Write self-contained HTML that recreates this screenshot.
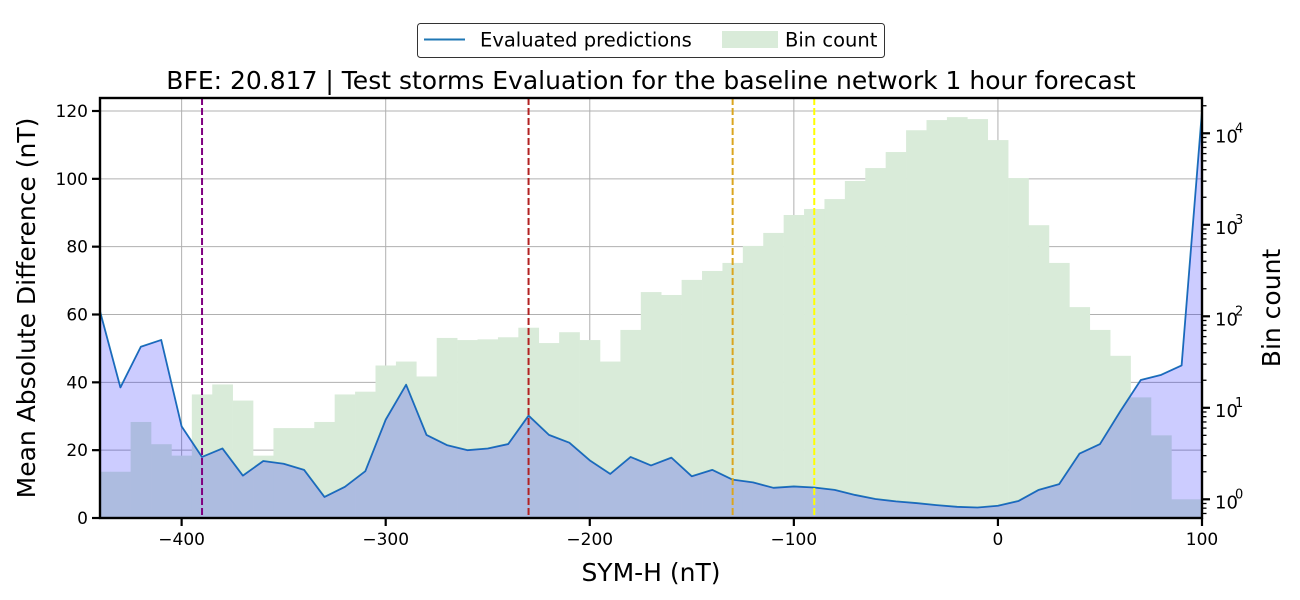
<!DOCTYPE html>
<html><head><meta charset="utf-8"><style>
html,body{margin:0;padding:0;background:#fff;}
svg{display:block;font-family:"DejaVu Sans","Liberation Sans",sans-serif;}
</style></head><body>
<svg id="chart" width="1300" height="600" viewBox="0 0 1300 600" xmlns="http://www.w3.org/2000/svg">
<rect x="0" y="0" width="1300" height="600" fill="#fff"/>
<g id="grid"></g>
<g id="hist"></g>
<g id="series"></g>
<g id="vlines"></g>
<g id="axes"></g>
<text x="651" y="89" font-size="25" text-anchor="middle" fill="#000">BFE: 20.817 | Test storms Evaluation for the baseline network 1 hour forecast</text>
<text x="651" y="581" font-size="25" text-anchor="middle" fill="#000">SYM-H (nT)</text>
<text x="0" y="0" font-size="25" text-anchor="middle" fill="#000" transform="translate(35,308) rotate(-90)">Mean Absolute Difference (nT)</text>
<text x="0" y="0" font-size="25" text-anchor="middle" fill="#000" transform="translate(1280,308) rotate(-90)">Bin count</text>
<g>
<rect x="417.5" y="23.5" width="467" height="34" rx="3" fill="#fff" stroke="#333" stroke-width="1"/>
<g>
<line x1="424" y1="39.5" x2="465" y2="39.5" stroke="#1f77b4" stroke-width="2"/>
<text x="480" y="46.5" font-size="19.5" fill="#000">Evaluated predictions</text>
</g>
<g>
<rect x="722" y="31" width="56" height="17" fill="#d9ebd9"/>
<text x="785" y="46.5" font-size="19.5" fill="#000">Bin count</text>
</g>
</g>
</svg>
<script>
const xVals = [-440,-430,-420,-410,-400,-390,-380,-370,-360,-350,-340,-330,-320,-310,-300,-290,-280,-270,-260,-250,-240,-230,-220,-210,-200,-190,-180,-170,-160,-150,-140,-130,-120,-110,-100,-90,-80,-70,-60,-50,-40,-30,-20,-10,0,10,20,30,40,50,60,70,80,90,100];
const maeVals = [61,38.5,50.5,52.5,27,18,20.5,12.5,16.8,16,14.2,6.2,9.2,13.8,29,39.3,24.5,21.5,20,20.5,21.8,30.2,24.5,22.2,17,13,18,15.5,17.8,12.3,14.2,11.3,10.5,8.9,9.3,9,8.3,6.8,5.6,4.9,4.4,3.8,3.3,3.1,3.6,5,8.3,10,19,21.8,31.5,40.7,42.2,45,120];
const binCenters = [-440,-430,-420,-410,-400,-390,-380,-370,-360,-350,-340,-330,-320,-310,-300,-290,-280,-270,-260,-250,-240,-230,-220,-210,-200,-190,-180,-170,-160,-150,-140,-130,-120,-110,-100,-90,-80,-70,-60,-50,-40,-30,-20,-10,0,10,20,30,40,50,60,70,80,90,100];
const binCounts = [2,2,7,4,3,14,18,12,3,6,6,7,14,15,29,32,22,58,55,56,59,75,51,67,55,32,71,184,171,250,313,383,588,815,1280,1490,1910,3010,4170,6240,10800,13950,15030,14300,8430,3240,990,383,126,71,37,13,5,1,1];
const xTicks = [-400,-300,-200,-100,0,100];
const yTicks = [0,20,40,60,80,100,120];
const logTicks = [0,1,2,3,4];
const thresholds = [-390,-230,-130,-90];
const thresholdColors = ['#800080','#b22222','#daa520','#ffff00'];

const L=100,R=1202,T=98,B=518;
const xMin=-440,xMax=100;
const X=v=>L+(v-xMin)/(xMax-xMin)*(R-L);
const Y=v=>518-v*(518-111)/120;
const YL=c=>499.3-91.5*Math.log10(c);
const NS='http://www.w3.org/2000/svg';
function mk(tag,attrs,parent){const e=document.createElementNS(NS,tag);for(const k in attrs)e.setAttribute(k,attrs[k]);parent.appendChild(e);return e;}
const clampX=v=>Math.max(L,Math.min(R,v));

const grid=document.getElementById('grid');
xTicks.forEach(t=>{const g=mk('line',{x1:X(t),x2:X(t),y1:T,y2:B,stroke:'#b0b0b0','stroke-width':1},grid);

});
yTicks.forEach(t=>{const g=mk('line',{x1:L,x2:R,y1:Y(t),y2:Y(t),stroke:'#b0b0b0','stroke-width':1},grid);

});

const hist=document.getElementById('hist');
binCenters.forEach((c,i)=>{
  const x0=clampX(X(c-5)),x1=clampX(X(c+5));
  const y=YL(binCounts[i]);
  const r=mk('rect',{x:x0,y:y,width:Math.max(0,x1-x0+0.3),height:Math.max(0,B-y),fill:'#d9ebd9'},hist);
  
  
});

const series=document.getElementById('series');
let pts=xVals.map((x,i)=>X(x).toFixed(2)+','+Y(maeVals[i]).toFixed(2));
const line=mk('polyline',{points:pts.join(' '),fill:'none',stroke:'#1f77b4','stroke-width':1.8,'stroke-linejoin':'round'},series);


const area=mk('polygon',{points:X(xVals[0])+','+B+' '+pts.join(' ')+' '+X(xVals[xVals.length-1])+','+B,fill:'#0000ff','fill-opacity':0.2},series);



const vl=document.getElementById('vlines');
thresholds.forEach((t,i)=>{const l=mk('line',{x1:X(t),x2:X(t),y1:T,y2:B,stroke:thresholdColors[i],'stroke-width':2,'stroke-dasharray':'7,3'},vl);

});

const ax=document.getElementById('axes');
const frame=mk('rect',{x:L,y:T,width:R-L,height:B-T,fill:'none',stroke:'#000','stroke-width':2.4},ax);


xTicks.forEach(t=>{mk('line',{x1:X(t),x2:X(t),y1:B,y2:B+8,stroke:'#000','stroke-width':2.2},ax);
const tx=mk('text',{x:X(t),y:B+27,'font-size':17,'text-anchor':'middle',fill:'#000'},ax);
tx.textContent=(t<0?'\u2212'+(-t):t);

});
yTicks.forEach(t=>{mk('line',{x1:L-8,x2:L,y1:Y(t),y2:Y(t),stroke:'#000','stroke-width':2.2},ax);
const tx=mk('text',{x:L-12,y:Y(t)+6,'font-size':17,'text-anchor':'end',fill:'#000'},ax);
tx.textContent=t;

});
for(let d=-1;d<=4;d++){for(let m=1;m<10;m++){const v=Math.pow(10,d)*m;const y=YL(v);if(y<T||y>B)continue;
if(m===1){mk('line',{x1:R,x2:R+8,y1:y,y2:y,stroke:'#000','stroke-width':2.2},ax);}
else{mk('line',{x1:R,x2:R+4.5,y1:y,y2:y,stroke:'#000','stroke-width':1.3},ax);}}}
logTicks.forEach(p=>{const y=YL(Math.pow(10,p));
const tx=mk('text',{x:R+13,y:y+9,'font-size':18,fill:'#000'},ax);
tx.textContent='10';


const sp=mk('text',{x:R+33,y:y-1,'font-size':13,fill:'#000'},ax);
sp.textContent=p;

});
</script>
</body></html>
